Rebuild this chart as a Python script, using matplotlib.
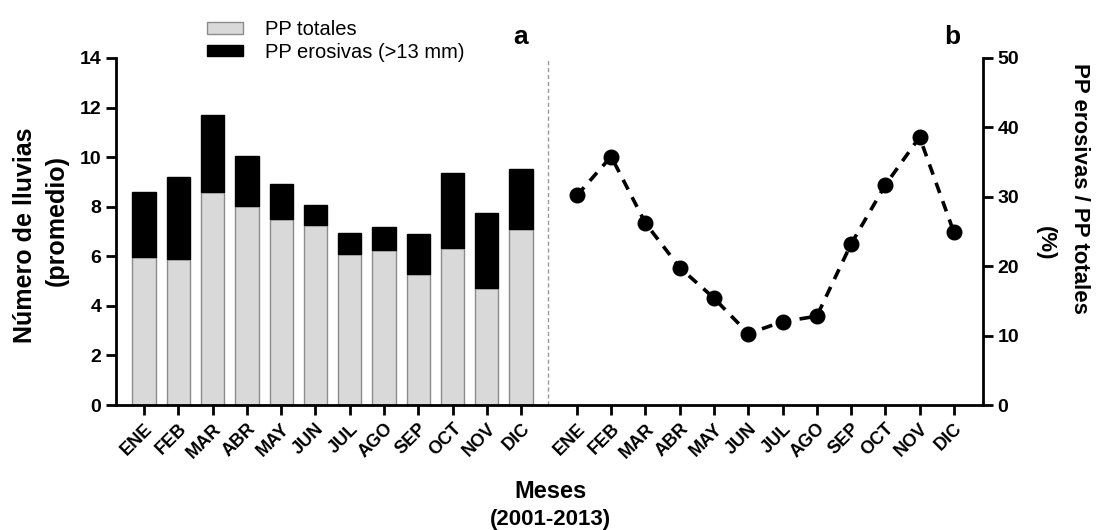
import matplotlib.pyplot as plt
import numpy as np

plt.rcParams["font.family"] = ["Liberation Sans", "DejaVu Sans"]

meses = ["ENE", "FEB", "MAR", "ABR", "MAY", "JUN", "JUL", "AGO", "SEP", "OCT", "NOV", "DIC"]
pp_totales = [5.96, 5.89, 8.59, 8.03, 7.49, 7.27, 6.09, 6.27, 5.28, 6.33, 4.72, 7.10]
pp_suma = [8.58, 9.18, 11.70, 10.06, 8.92, 8.08, 6.92, 7.19, 6.90, 9.35, 7.74, 9.51]
pct_erosivas = [30.2, 35.8, 26.2, 19.8, 15.4, 10.3, 12.0, 12.8, 23.2, 31.7, 38.6, 24.9]

pp_erosivas = np.array(pp_suma) - np.array(pp_totales)

x_a = np.arange(12)
x_b = np.arange(12) + 12.63

W, H = 1104, 530
fig = plt.figure(figsize=(W / 100, H / 100), dpi=100)
ax = fig.add_axes([116 / W, 1 - 405 / H, (983 - 116) / W, (405 - 58) / H])

ax.bar(x_a, pp_totales, width=0.68, color="#d9d9d9", edgecolor="#8c8c8c", linewidth=1, label="PP totales")
ax.bar(x_a, pp_erosivas, width=0.68, bottom=pp_totales, color="black", edgecolor="black",
       linewidth=1, label="PP erosivas (>13 mm)")

ax.set_xlim(-0.82, 24.48)
ax.set_ylim(0, 14)
ax.set_yticks(range(0, 15, 2))
ax.axvline(11.8, color="#999999", linestyle=(0, (3, 2)), linewidth=1)

ax.set_xticks(np.concatenate([x_a, x_b]))
ax.set_xticklabels(meses + meses, rotation=45, ha="right", rotation_mode="anchor",
                   fontsize=13, fontweight="bold")
ax.tick_params(axis="x", length=7, width=2, pad=4)
ax.tick_params(axis="y", length=7, width=2, labelsize=14)
for t in ax.get_yticklabels():
    t.set_fontweight("bold")

ax.spines["top"].set_visible(False)
ax.spines["right"].set_visible(False)
ax.spines["left"].set_linewidth(2)
ax.spines["bottom"].set_linewidth(2)

ax2 = ax.twinx()
ax2.plot(x_b, pct_erosivas, color="black", linestyle=(0, (3, 2.4)), linewidth=2.6,
         marker="o", markersize=10.5)
ax2.set_ylim(0, 50)
ax2.set_yticks(range(0, 51, 10))
ax2.tick_params(axis="y", length=7, width=2, labelsize=14)
for t in ax2.get_yticklabels():
    t.set_fontweight("bold")
ax2.spines["top"].set_visible(False)
ax2.spines["left"].set_visible(False)
ax2.spines["bottom"].set_visible(False)
ax2.spines["right"].set_linewidth(2)

# axis titles
fig.text(25 / W, 1 - 235 / H, "Número de lluvias", fontsize=18, fontweight="bold",
         rotation=90, ha="center", va="center")
fig.text(57 / W, 1 - 220 / H, "(promedio)", fontsize=18, fontweight="bold",
         rotation=90, ha="center", va="center")
fig.text(1080 / W, 1 - 188 / H, "PP erosivas / PP totales", fontsize=16, fontweight="bold",
         rotation=270, ha="center", va="center")
fig.text(1045 / W, 1 - 243 / H, "(%)", fontsize=16, fontweight="bold",
         rotation=270, ha="center", va="center")
fig.text(550 / W, 1 - 491 / H, "Meses", fontsize=17, fontweight="bold", ha="center", va="center")
fig.text(550 / W, 1 - 520 / H, "(2001-2013)", fontsize=16, fontweight="bold", ha="center", va="center")

fig.text(521 / W, 1 - 37 / H, "a", fontsize=19, fontweight="bold", ha="center", va="center")
fig.text(952 / W, 1 - 37 / H, "b", fontsize=19, fontweight="bold", ha="center", va="center")

fig.legend(*ax.get_legend_handles_labels(), loc="upper left", bbox_to_anchor=(207 / W, 1 - 20 / H),
           frameon=False, fontsize=14.5, borderpad=0, borderaxespad=0,
           handlelength=1.8, handleheight=0.5, handletextpad=1.1, labelspacing=0.18)

fig.savefig("out.png", dpi=100)
